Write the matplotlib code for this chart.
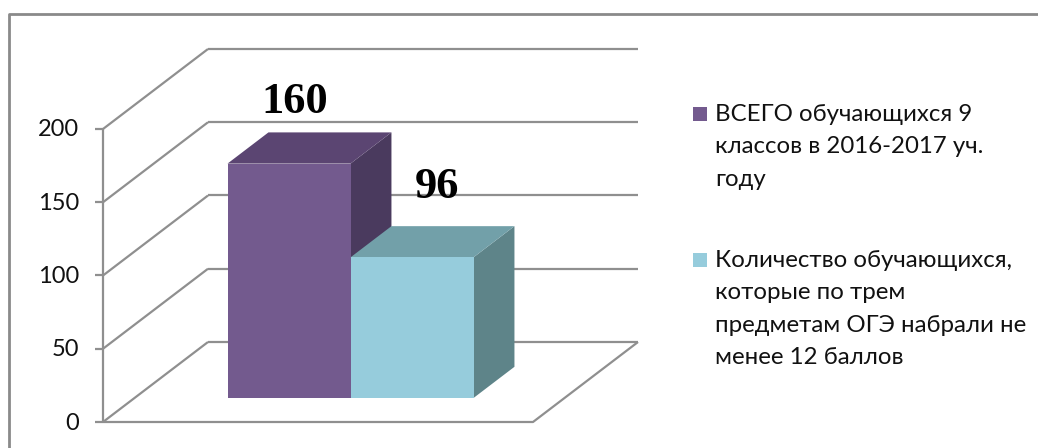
import matplotlib
matplotlib.use("Agg")
import matplotlib.pyplot as plt
from matplotlib.patches import Polygon

# ---- data ----
values = [160, 96]
value_labels = ["160", "96"]
series_labels = [
    ["ВСЕГО обучающихся 9", "классов в 2016-2017 уч.", "году"],
    ["Количество обучающихся,", "которые по трем", "предметам ОГЭ набрали не", "менее 12 баллов"],
]
yticks = [0, 50, 100, 150, 200]

# ---- style ----
front_cols = ["#735A8E", "#96CCDC"]
top_cols = ["#5B4572", "#72A0A9"]
side_cols = ["#4A3A5E", "#5E8489"]
grid_col = "#8F8F8F"

W, H = 1038, 448
fig = plt.figure(figsize=(W / 100, H / 100), dpi=100)
ax = fig.add_axes([0, 0, 1, 1])
ax.set_xlim(0, W)
ax.set_ylim(H, 0)
ax.axis("off")

# projection parameters (pixel geometry of the 3D box)
AX, Y0, S = 103, 422, 1.465   # front axis x, front zero y, px per unit
DX, DY = 105, 80              # depth offset
WID = 430                     # floor width


def P(xf, v, d):
    return (AX + xf + d * DX, Y0 - v * S - d * DY)


lkw = dict(color=grid_col, lw=1.6, solid_capstyle="butt", zorder=1)

# outer border
ax.plot([9, 9, W], [H, 14, 14], color="#8A8A8A", lw=2.0, zorder=1)

# back-wall grid lines and left-wall diagonals
for v in yticks:
    x1, y1 = P(0, v, 1)
    x2, y2 = P(WID, v, 1)
    ax.plot([x1, x2], [y1, y2], **lkw)
    fx, fy = P(0, v, 0)
    ax.plot([fx, x1], [fy, y1], **lkw)
    ax.plot([fx - 8, fx], [fy, fy], **lkw)
    ax.text(fx - 24, fy + 1, f"{v}", ha="right", va="center",
            fontsize=17, family="Lato", color="#111111")

# front axis
fx0, fy0 = P(0, 0, 0)
fx1, fy1 = P(0, max(yticks), 0)
ax.plot([fx0, fx1], [fy0, fy1], **lkw)
# floor
ax.plot(*zip(P(0, 0, 0), P(WID, 0, 0), P(WID, 0, 1)), **lkw)

# bars
d0, d1 = 0.30, 0.69
bx0, bw = 93, 123
lab_dx = [6, 25]
lab_dy = [-62, -70]
for i, v in enumerate(values):
    xa, xb = bx0 + i * bw, bx0 + (i + 1) * bw
    front = [P(xa, 0, d0), P(xb, 0, d0), P(xb, v, d0), P(xa, v, d0)]
    top = [P(xa, v, d0), P(xb, v, d0), P(xb, v, d1), P(xa, v, d1)]
    side = [P(xb, 0, d0), P(xb, 0, d1), P(xb, v, d1), P(xb, v, d0)]
    z = 3 + i
    ax.add_patch(Polygon(side, closed=True, fc=side_cols[i], ec="none", zorder=z))
    ax.add_patch(Polygon(top, closed=True, fc=top_cols[i], ec="none", zorder=z))
    ax.add_patch(Polygon(front, closed=True, fc=front_cols[i], ec="none", zorder=z))
    tx, ty = P((xa + xb) / 2, v, d0)
    ax.text(tx + lab_dx[i], ty + lab_dy[i], value_labels[i], ha="center", va="center",
            fontsize=32, family="Liberation Serif", fontweight="bold",
            color="black", zorder=10)

# legend
leg_first = [121, 267]
line_step = 32.3
for i, lines in enumerate(series_labels):
    yb = leg_first[i]
    ax.add_patch(plt.Rectangle((693, yb - 14), 14, 14, fc=front_cols[i], ec="none"))
    for k, t in enumerate(lines):
        ax.text(715, yb + k * line_step, t, ha="left", va="baseline",
                fontsize=17.3, family="Lato", color="#111111")

fig.savefig("out.png", dpi=100)
